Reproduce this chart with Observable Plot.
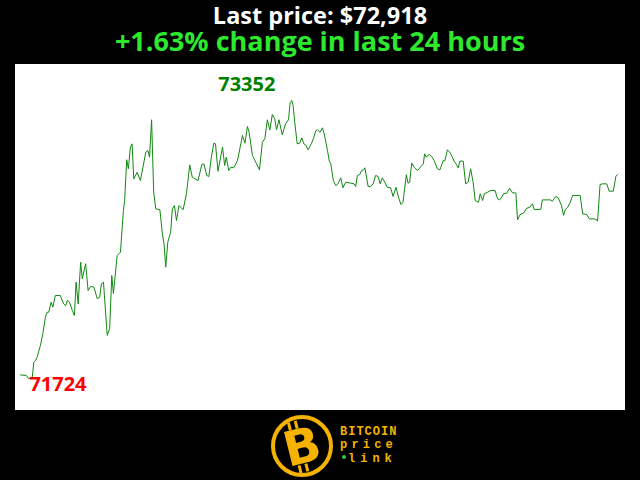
<!DOCTYPE html>
<html><head><meta charset="utf-8">
<script src="https://cdn.jsdelivr.net/npm/d3@7"></script>
<script src="https://cdn.jsdelivr.net/npm/@observablehq/plot@0.6"></script>
<style>
html,body{margin:0;padding:0;background:#000;width:640px;height:480px;overflow:hidden;position:relative;}
.hd{position:absolute;left:0;width:640px;text-align:center;font-family:"Open Sans",sans-serif;font-weight:700;white-space:nowrap;}
#t1{top:5px;font-size:23.5px;line-height:20px;color:#fff;}
#t2{top:30px;font-size:27px;line-height:22px;color:#2ee82e;}
#chart{position:absolute;left:15px;top:64px;width:610px;height:346px;}
#logo{position:absolute;left:0;top:410px;width:640px;height:70px;}
</style></head>
<body>
<div class="hd" id="t1">Last price: $72,918</div>
<div class="hd" id="t2">+1.63% change in last 24 hours</div>
<div id="chart"></div>
<svg id="logo" width="640" height="70" viewBox="0 0 640 70">
  <circle cx="302" cy="36" r="29" fill="#000" stroke="#f5b300" stroke-width="4"/>
  <g transform="translate(302,36) rotate(-14)">
    <rect x="-9" y="-26" width="3" height="8" fill="#f5b300"/>
    <rect x="-2" y="-26" width="3" height="8" fill="#f5b300"/>
    <rect x="-9" y="18" width="3" height="8" fill="#f5b300"/>
    <rect x="-2" y="18" width="3" height="8" fill="#f5b300"/>
    <text x="0" y="17" text-anchor="middle" font-family="DejaVu Sans" font-weight="700" font-size="48" fill="#f5b300">B</text>
  </g>
  <text x="340" y="25" font-family="Liberation Mono" font-weight="700" font-size="12" letter-spacing="1" fill="#f5b300">BITCOIN</text>
  <text x="340" y="38" font-family="Liberation Mono" font-weight="700" font-size="12" letter-spacing="4.2" fill="#f5b300">price</text>
  <circle cx="344" cy="47" r="2" fill="#2ecc40"/>
  <text x="348" y="52" font-family="Liberation Mono" font-weight="700" font-size="12" letter-spacing="5" fill="#f5b300">link</text>
</svg>
<script>
const times = [0,14,19,28,32,36,40,48,54,60,64,68,74,78,84,96,104,109,113,118,125,130,134,139,145,149,157,163,169,177,185,191,195,200,209,215,220,224,233,241,248,251,256,260,265,269,273,281,289,302,307,311,316,321,326,336,342,346,350,355,362,366,371,376,382,392,400,408,414,428,437,442,449,454,460,466,470,476,487,492,496,502,507,514,523,531,535,541,547,551,559,567,576,583,589,595,601,607,613,617,623,631,639,646,650,654,657,661,667,673,678,683,687,693,701,706,712,716,722,728,732,740,744,748,754,760,765,772,777,784,796,804,808,812,818,822,827,830,838,844,850,856,862,867,872,878,884,892,898,905,911,917,922,930,934,938,943,949,957,965,971,974,978,985,991,997,1005,1011,1019,1023,1029,1035,1041,1045,1051,1055,1059,1067,1073,1079,1085,1091,1096,1104,1108,1114,1118,1126,1134,1144,1150,1155,1161,1164,1172,1179,1186,1194,1198,1204,1213,1220,1228,1234,1238,1254,1258,1277,1282,1290,1296,1304,1309,1313,1319,1325,1331,1349,1355,1365,1371,1383,1389,1391,1397,1403,1413,1419,1429,1435,1439];
const prices = [71745,71742,71724,71724,71818,71829,71849,71917,71988,72083,72112,72112,72171,72142,72210,72210,72161,72151,72181,72171,72122,72093,72288,72161,72405,72308,72396,72239,72263,72259,72191,72200,72279,72288,71976,72017,72327,72222,72444,72464,72708,72766,73005,72952,73079,73098,72893,72932,72883,73049,73059,73020,73239,72815,72718,72712,72571,72513,72376,72522,72581,72718,72737,72649,72737,72712,72806,72975,72903,72883,72977,72981,72913,72907,73020,73102,73098,72938,73079,72971,73020,72942,72961,72958,73000,73098,73147,73102,73200,73166,73030,72991,72946,73108,73128,73239,73180,73270,73245,73180,73239,73151,73216,73239,73340,73352,73323,73225,73098,73102,73133,73098,73093,73063,73098,73128,73176,73180,73166,73192,73157,73059,73000,72981,72883,72854,72864,72899,72841,72874,72868,72864,72848,72913,72919,72942,72946,72958,72848,72848,72864,72913,72907,72864,72899,72874,72844,72841,72790,72844,72786,72743,72756,72917,72868,72872,72985,72961,72942,72965,72981,73040,73020,73036,73024,73000,72952,72946,73000,73000,73063,73049,73020,72997,72977,72958,72997,72997,72864,72874,72952,72874,72766,72756,72806,72766,72806,72815,72825,72825,72776,72770,72790,72806,72809,72838,72811,72811,72653,72683,72694,72721,72727,72747,72714,72714,72770,72770,72762,72790,72782,72737,72679,72712,72727,72756,72796,72796,72688,72684,72659,72659,72653,72645,72860,72864,72864,72821,72821,72907,72918];

const data = times.map((t, i) => ({t, price: prices[i]}));

const chart = Plot.plot({
  width: 610,
  height: 346,
  marginTop: 36,
  marginBottom: 32,
  marginLeft: 5,
  marginRight: 8,
  style: {background: "#fff", overflow: "visible"},
  x: {axis: null},
  y: {axis: null},
  marks: [
    Plot.line(data, {x: "t", y: "price", stroke: "#118811", strokeWidth: 1}),
    Plot.text(data, Plot.selectMaxY({x: "t", y: "price", text: d => String(d.price), dx: -45, dy: -16, fill: "#008000", fontSize: 20, fontWeight: "bold", fontFamily: "Open Sans", textAnchor: "middle"})),
    Plot.text(data, Plot.selectMinY({x: "t", y: "price", text: d => String(d.price), dx: 1, dy: 6, fill: "#ff0000", fontSize: 20, fontWeight: "bold", fontFamily: "Open Sans", textAnchor: "start"}))
  ]
});
document.getElementById("chart").appendChild(chart);
</script>
</body></html>
